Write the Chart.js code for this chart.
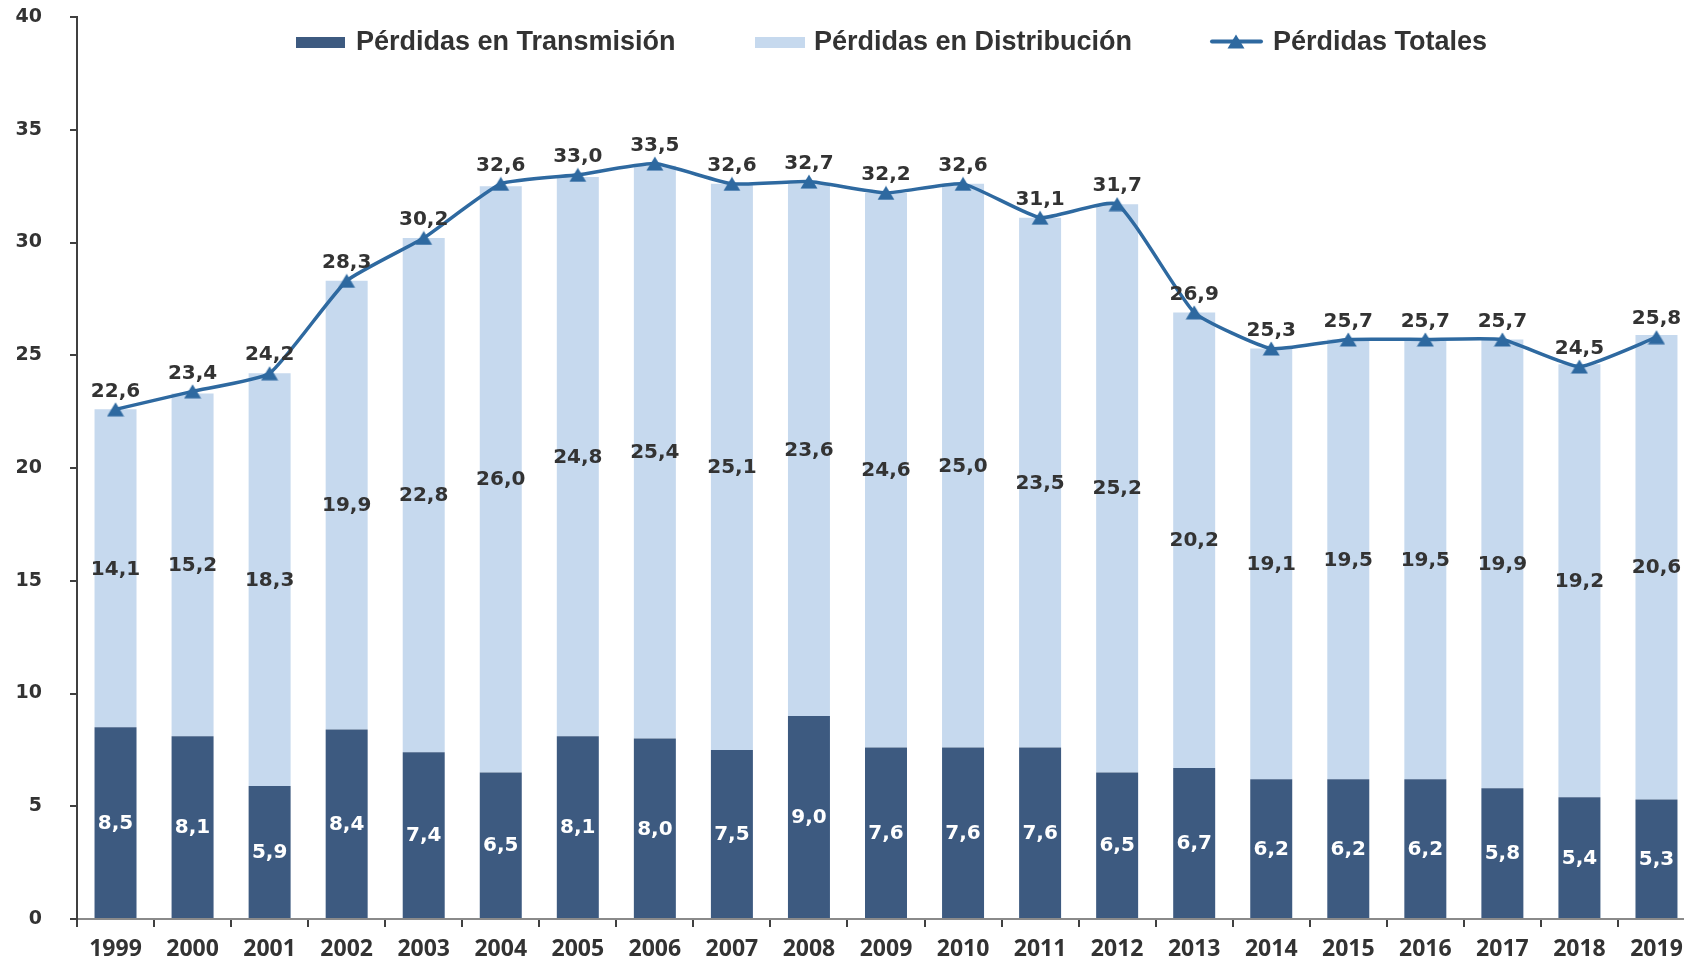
<!DOCTYPE html>
<html>
<head>
<meta charset="utf-8">
<script src="https://cdn.jsdelivr.net/npm/chart.js@4/dist/chart.umd.min.js"></script>
<style>
  html, body { margin: 0; padding: 0; background: #fff; overflow: hidden; width: 1684px; height: 957px; }
  #wrap { position: absolute; left: 0; top: 0; width: 1695px; height: 957px; }
  canvas { display: block; }
</style>
</head>
<body>
<div id="wrap"><canvas id="c" width="1695" height="957"></canvas></div>
<script>
const years = ['1999','2000','2001','2002','2003','2004','2005','2006','2007','2008','2009','2010','2011','2012','2013','2014','2015','2016','2017','2018','2019'];
const transmision = [8.5, 8.1, 5.9, 8.4, 7.4, 6.5, 8.1, 8.0, 7.5, 9.0, 7.6, 7.6, 7.6, 6.5, 6.7, 6.2, 6.2, 6.2, 5.8, 5.4, 5.3];
const distribucion = [14.1, 15.2, 18.3, 19.9, 22.8, 26.0, 24.8, 25.4, 25.1, 23.6, 24.6, 25.0, 23.5, 25.2, 20.2, 19.1, 19.5, 19.5, 19.9, 19.2, 20.6];
const totales = [22.6, 23.4, 24.2, 28.3, 30.2, 32.6, 33.0, 33.5, 32.6, 32.7, 32.2, 32.6, 31.1, 31.7, 26.9, 25.3, 25.7, 25.7, 25.7, 24.5, 25.8];
const seriesNames = ['Pérdidas en Transmisión', 'Pérdidas en Distribución', 'Pérdidas Totales'];
const yTicks = [0, 5, 10, 15, 20, 25, 30, 35, 40];

const C_TRANS = '#3d5a80';
const C_DIST = '#c6d9ee';
const C_LINE = '#2e69a0';
const C_TEXT = '#333333';

function fmt(v) { return v.toFixed(1).replace('.', ','); }

// triangle marker centered in its bounding box
const tri = document.createElement('canvas');
tri.width = 18; tri.height = 15;
(function () {
  const g = tri.getContext('2d');
  g.fillStyle = C_LINE;
  g.beginPath();
  g.moveTo(9, 0.5); g.lineTo(17.5, 14.5); g.lineTo(0.5, 14.5); g.closePath();
  g.fill();
})();

const labelPlugin = {
  id: 'valueLabels',
  afterDatasetsDraw(chart) {
    const ctx = chart.ctx;
    ctx.save();
    ctx.font = 'bold 20px "DejaVu Sans"';
    ctx.textAlign = 'center';
    ctx.textBaseline = 'middle';
    chart.data.datasets.forEach((ds, di) => {
      const meta = chart.getDatasetMeta(di);
      meta.data.forEach((el, i) => {
        const v = ds.data[i];
        if (ds.type === 'line') {
          ctx.fillStyle = C_TEXT;
          ctx.fillText(fmt(v), el.x, el.y - 18);
        } else {
          ctx.fillStyle = di === 0 ? '#ffffff' : C_TEXT;
          ctx.fillText(fmt(v), el.x, (el.y + el.base) / 2 + 1);
        }
      });
    });
    ctx.restore();
  }
};

const legendPlugin = {
  id: 'customLegend',
  afterDraw(chart) {
    const ctx = chart.ctx;
    ctx.save();
    ctx.fillStyle = C_TRANS;
    ctx.fillRect(296, 37, 49, 11);
    ctx.fillStyle = C_DIST;
    ctx.fillRect(755, 37, 50, 11);
    ctx.strokeStyle = C_LINE;
    ctx.lineWidth = 4;
    ctx.lineCap = 'round';
    ctx.beginPath(); ctx.moveTo(1212, 41.5); ctx.lineTo(1261, 41.5); ctx.stroke();
    ctx.drawImage(tri, 1227, 34);
    ctx.fillStyle = C_TEXT;
    ctx.font = 'bold 27px "Liberation Sans", Arial, sans-serif';
    ctx.textAlign = 'left';
    ctx.textBaseline = 'alphabetic';
    ctx.fillText(seriesNames[0], 356, 49.5);
    ctx.fillText(seriesNames[1], 814, 49.5);
    ctx.fillText(seriesNames[2], 1273, 49.5);
    ctx.restore();
  }
};

new Chart(document.getElementById('c'), {
  data: {
    labels: years,
    datasets: [
      { type: 'bar', label: seriesNames[0], data: transmision, backgroundColor: C_TRANS, stack: 'bars', order: 2,
        barPercentage: 0.545, categoryPercentage: 1.0 },
      { type: 'bar', label: seriesNames[1], data: distribucion, backgroundColor: C_DIST, stack: 'bars', order: 2,
        barPercentage: 0.545, categoryPercentage: 1.0 },
      { type: 'line', label: seriesNames[2], data: totales, stack: 'line', order: 1,
        borderColor: C_LINE, borderWidth: 3.5, tension: 0.15, fill: false,
        pointStyle: tri, pointRadius: 8, pointHoverRadius: 8 }
    ]
  },
  options: {
    responsive: false,
    animation: false,
    events: [],
    layout: { autoPadding: false, padding: { top: 17, left: 0, right: 0, bottom: 0 } },
    plugins: { legend: { display: false }, tooltip: { enabled: false } },
    scales: {
      x: {
        stacked: true,
        offset: true,
        afterFit(s) { s.height = 38; s.paddingLeft = 0; s.paddingRight = 0; },
        grid: { display: true, drawOnChartArea: false, drawTicks: true, tickLength: 8, offset: true, color: '#404040', lineWidth: 2 },
        border: { display: true, color: '#8a8a8a', width: 2 },
        ticks: { color: C_TEXT, font: { family: '"Open Sans"', weight: 'bold', size: 23 }, padding: 9, maxRotation: 0, autoSkip: false }
      },
      y: {
        stacked: true,
        min: 0, max: 40,
        afterFit(s) { s.width = 77; s.paddingTop = 0; s.paddingBottom = 0; },
        afterBuildTicks(s) { s.ticks = yTicks.map(v => ({ value: v })); },
        grid: { display: true, drawOnChartArea: false, drawTicks: true, tickLength: 7, color: '#404040', lineWidth: 2 },
        border: { display: true, color: '#404040', width: 2 },
        ticks: { color: C_TEXT, font: { family: '"DejaVu Sans"', weight: 'bold', size: 19 }, padding: 28 }
      }
    }
  },
  plugins: [labelPlugin, legendPlugin]
});
</script>
</body>
</html>
